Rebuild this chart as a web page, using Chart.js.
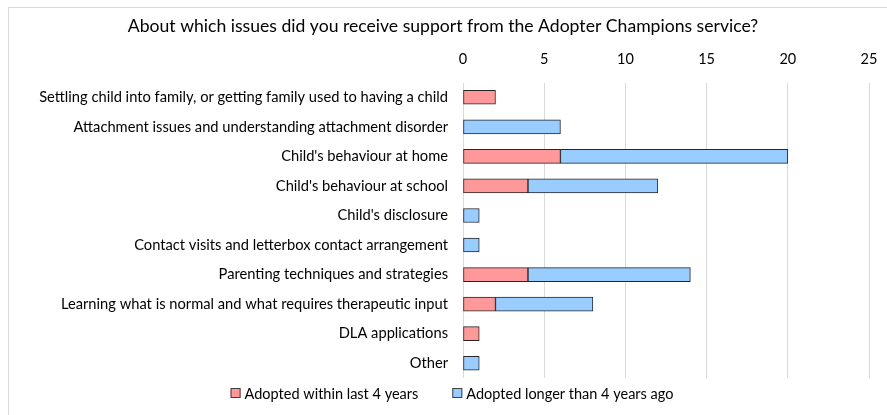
<!DOCTYPE html>
<html>
<head>
<meta charset="utf-8">
<script src="https://cdn.jsdelivr.net/npm/chart.js@4/dist/chart.umd.min.js"></script>
<style>
  html, body { margin: 0; padding: 0; background: #fff; }
  #wrap { position: relative; width: 887px; height: 415px; overflow: hidden; }
  #frame { position: absolute; left: 8px; top: 7px; width: 900px; height: 420px; border: 1px solid #d9d9d9; box-sizing: border-box; }
  canvas { position: absolute; left: 0; top: 0; }
</style>
</head>
<body>
<div id="wrap">
  <div id="frame"></div>
  <canvas id="chart" width="887" height="415"></canvas>
</div>
<script>
const categories = [
  'Settling child into family, or getting family used to having a child',
  'Attachment issues and understanding attachment disorder',
  "Child's behaviour at home",
  "Child's behaviour at school",
  "Child's disclosure",
  'Contact visits and letterbox contact arrangement',
  'Parenting techniques and strategies',
  'Learning what is normal and what requires therapeutic input',
  'DLA applications',
  'Other'
];
const adoptedRecent = [2, 0, 6, 4, 0, 0, 4, 2, 1, 0];
const adoptedEarlier = [0, 6, 14, 8, 1, 1, 10, 6, 0, 1];
const xTicks = [0, 5, 10, 15, 20, 25];

const FONT = 'Lato, "Noto Sans", sans-serif';

// legend drawn by hand so the gap between the two entries can be wider
// than the built-in legend allows without growing its height
const bottomLegend = {
  id: 'bottomLegend',
  afterDraw(chart) {
    const { ctx } = chart;
    const box = 10, gap = 4, spacing = 34, y = 393;
    ctx.save();
    ctx.font = '14.5px ' + FONT;
    ctx.textBaseline = 'middle';
    const items = chart.data.datasets.map(ds => ({
      text: ds.label, color: ds.backgroundColor, w: ctx.measureText(ds.label).width,
    }));
    const total = items.reduce((s, it) => s + box + gap + it.w, 0) + spacing * (items.length - 1);
    let x = 452 - total / 2;
    items.forEach(it => {
      ctx.fillStyle = it.color;
      ctx.fillRect(x, y - box / 2, box, box);
      ctx.strokeStyle = '#404040';
      ctx.lineWidth = 1;
      ctx.strokeRect(x + 0.5, y - box / 2 + 0.5, box - 1, box - 1);
      ctx.fillStyle = '#000';
      ctx.fillText(it.text, x + box + gap, y + 1);
      x += box + gap + it.w + spacing;
    });
    ctx.restore();
  },
};

const ctx = document.getElementById('chart').getContext('2d');
new Chart(ctx, {
  type: 'bar',
  data: {
    labels: categories,
    datasets: [
      {
        label: 'Adopted within last 4 years',
        data: adoptedRecent,
        backgroundColor: '#ff9999',
        borderColor: '#262626',
        borderWidth: 1,
        borderSkipped: false,
        barThickness: 14,
      },
      {
        label: 'Adopted longer than 4 years ago',
        data: adoptedEarlier,
        backgroundColor: '#99ccff',
        borderColor: '#262626',
        borderWidth: 1,
        borderSkipped: false,
        barThickness: 14,
      },
    ],
  },
  plugins: [bottomLegend],
  options: {
    indexAxis: 'y',
    responsive: false,
    animation: false,
    layout: { padding: { top: 16, right: 18, bottom: 37, left: 17 } },
    plugins: {
      title: {
        display: true,
        text: 'About which issues did you receive support from the Adopter Champions service?',
        color: '#000',
        font: { family: FONT, size: 17.6, weight: 'normal' },
        padding: { top: 0, bottom: 0 },
      },
      legend: { display: false },
      tooltip: { enabled: false },
    },
    scales: {
      x: {
        position: 'top',
        stacked: true,
        min: 0,
        max: 25,
        afterBuildTicks: (axis) => { axis.ticks = xTicks.map(v => ({ value: v })); },
        // the "25" label may overhang the plot edge; keep the plot at full width
        afterFit: (axis) => { axis.paddingLeft = 0; axis.paddingRight = 0; },
        grid: { color: '#d9d9d9', drawTicks: false },
        border: { display: false },
        ticks: { color: '#000', font: { family: FONT, size: 14.5 }, padding: 14 },
      },
      y: {
        stacked: true,
        grid: { display: false },
        border: { display: false },
        ticks: { color: '#000', font: { family: FONT, size: 14.7 }, padding: 7 },
        afterFit: (axis) => { axis.width = 446; },
      },
    },
  },
});
</script>
</body>
</html>
